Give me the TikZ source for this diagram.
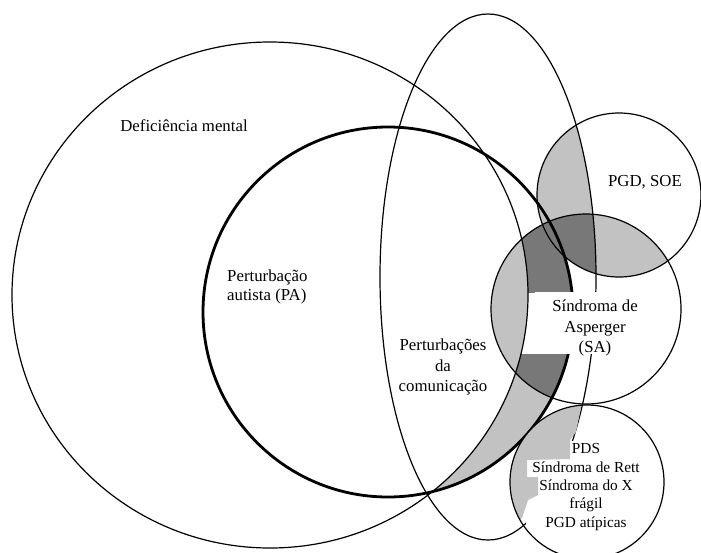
\documentclass[tikz,border=0pt]{standalone}
\usepackage{fontspec}
\setmainfont{Liberation Serif}
\definecolor{shadelight}{gray}{0.76}
\definecolor{shadedark}{gray}{0.47}
\newcommand{\dmpath}{(270,295) ellipse [x radius=258, y radius=253]}
\newcommand{\papath}{(388,312) circle [radius=185]}
\newcommand{\pcpath}{(488,277) ellipse [x radius=108, y radius=263]}
\newcommand{\soepath}{(619,195) circle [radius=82]}
\newcommand{\sapath}{(586,309) circle [radius=95]}
\newcommand{\pdspath}{(587,482) circle [radius=77]}

\begin{document}
\begin{tikzpicture}[x=1pt, y=-1pt,
    outline/.style={line width=1.2pt},
    heavy/.style={line width=2.8pt},
    txt/.style={font=\fontsize{16.8}{20.5}\selectfont, align=center, inner sep=1pt},
    smalltxt/.style={font=\fontsize{15.3}{18.3}\selectfont, align=center}]
    \useasboundingbox (0,0) rectangle (701,552);

    \begin{scope}
        \clip \soepath;
        \fill [shadelight] \pcpath;
        \fill [shadelight] \sapath;
        \clip \sapath;
        \fill [shadedark] \pcpath;
    \end{scope}
    \begin{scope}
        \clip \sapath;
        \fill [shadelight] \dmpath;
    \end{scope}
    \begin{scope}
        \clip \papath;
        \clip (0,354) rectangle (701,552);
        \fill [shadelight, even odd rule] \papath \dmpath;
        \clip \sapath;
        \fill [shadedark, even odd rule] \papath \dmpath;
    \end{scope}
    \begin{scope}
        \clip \papath;
        \clip \sapath;
        \clip (0,0) rectangle (701,292);
        \fill [shadedark, even odd rule] \papath \dmpath;
    \end{scope}

    \draw [outline] \dmpath;
    \draw [outline] \pcpath;
    \draw [outline] \soepath;
    \draw [outline] \sapath;
    \draw [heavy] \papath;
    \fill [white] (535,292) rectangle (640,354);

    \node (pds) [smalltxt, fill=white, inner xsep=6pt, inner ysep=3pt] at (586,487)
        {PDS\\Síndroma de Rett\\Síndroma do X\\frágil\\PGD atípicas};
    \begin{scope}
        \clip \pdspath;
        \fill [shadelight] (583,398) -- (576,432) -- (570,440) -- (570,459) -- (527,460)
            -- (527,477) -- (538,477) -- (538,495) -- (528,500) -- (522,518) -- (505,532)
            -- (490,400) -- cycle;
    \end{scope}
    \draw [outline] \pdspath;

    \node (dm) [txt] at (184,126) {Deficiência mental};
    \node (pa) [txt, align=left, anchor=west, font=\fontsize{16.8}{18.5}\selectfont] at (226,287) {Perturbação\\autista (PA)};
    \node (pc) [txt] at (443,367) {Perturbações\\da\\comunicação};
    \node (soe) [txt] at (645,182) {PGD, SOE};
    \node (sa) [txt] at (595,328) {Síndroma de\\Asperger\\(SA)};
\end{tikzpicture}
\end{document}
